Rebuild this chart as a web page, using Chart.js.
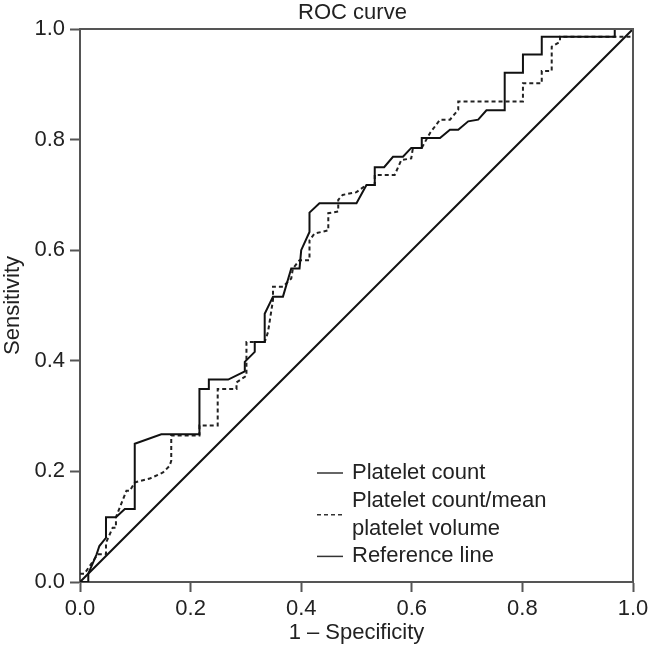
<!DOCTYPE html>
<html>
<head>
<meta charset="utf-8">
<script src="https://cdn.jsdelivr.net/npm/chart.js@4"></script>
<style>
  html, body { margin: 0; padding: 0; background: #fff; }
  #wrap { width: 648px; height: 649px; }
</style>
</head>
<body>
<div id="wrap"><canvas id="roc"></canvas></div>
<script>
// ROC curve
const countX = [0, 0.015, 0.015, 0.03, 0.035, 0.047, 0.047, 0.065, 0.081, 0.099, 0.099, 0.147, 0.216, 0.216, 0.233, 0.233, 0.268, 0.298, 0.298, 0.316, 0.316, 0.334, 0.334, 0.349, 0.367, 0.382, 0.397, 0.400, 0.415, 0.415, 0.433, 0.500, 0.518, 0.533, 0.533, 0.550, 0.566, 0.584, 0.599, 0.618, 0.618, 0.651, 0.669, 0.684, 0.702, 0.720, 0.735, 0.768, 0.768, 0.801, 0.801, 0.835, 0.835, 0.967, 0.967, 1.0];
const countY = [0, 0, 0.015, 0.05, 0.065, 0.08, 0.117, 0.117, 0.132, 0.132, 0.25, 0.267, 0.267, 0.349, 0.349, 0.366, 0.366, 0.381, 0.398, 0.416, 0.434, 0.434, 0.485, 0.516, 0.516, 0.567, 0.567, 0.600, 0.633, 0.668, 0.685, 0.685, 0.718, 0.718, 0.750, 0.750, 0.769, 0.769, 0.785, 0.785, 0.803, 0.803, 0.818, 0.818, 0.833, 0.836, 0.853, 0.853, 0.921, 0.921, 0.954, 0.954, 0.986, 0.986, 1.0, 1.0];

const ratioX = [0, 0.008, 0.032, 0.047, 0.047, 0.059, 0.065, 0.065, 0.084, 0.090, 0.099, 0.126, 0.150, 0.162, 0.165, 0.165, 0.216, 0.216, 0.249, 0.249, 0.283, 0.283, 0.301, 0.301, 0.334, 0.340, 0.349, 0.349, 0.367, 0.382, 0.385, 0.397, 0.415, 0.415, 0.424, 0.449, 0.449, 0.467, 0.467, 0.475, 0.500, 0.518, 0.533, 0.533, 0.569, 0.581, 0.599, 0.602, 0.618, 0.633, 0.651, 0.669, 0.684, 0.684, 0.801, 0.801, 0.835, 0.835, 0.853, 0.853, 0.868, 0.868, 1.0, 1.0];
const ratioY = [0.015, 0.015, 0.05, 0.05, 0.071, 0.098, 0.098, 0.117, 0.165, 0.165, 0.18, 0.187, 0.198, 0.210, 0.219, 0.265, 0.265, 0.283, 0.283, 0.349, 0.349, 0.361, 0.373, 0.434, 0.434, 0.452, 0.510, 0.534, 0.534, 0.549, 0.567, 0.582, 0.582, 0.618, 0.630, 0.636, 0.667, 0.670, 0.691, 0.700, 0.705, 0.718, 0.718, 0.736, 0.736, 0.763, 0.766, 0.785, 0.785, 0.812, 0.836, 0.836, 0.854, 0.869, 0.869, 0.902, 0.902, 0.924, 0.924, 0.968, 0.977, 0.986, 0.986, 1.0];

const refX = [0, 1];
const refY = [0, 1];

const tickValues = [0, 0.2, 0.4, 0.6, 0.8, 1.0];

const TITLE = 'ROC curve';
const FONT = '"Liberation Sans", Arial, sans-serif';
const FS = 22;
const AXIS = '#555';

function toPoints(xs, ys) {
    return xs.map((x, i) => ({ x: x, y: ys[i] }));
}

// top + right frame lines, and the title centred over the plot box
const framePlugin = {
    id: 'frame',
    afterDatasetsDraw(chart) {
        const { ctx, chartArea: a } = chart;
        ctx.save();
        ctx.strokeStyle = AXIS;
        ctx.lineWidth = 2;
        ctx.beginPath();
        ctx.moveTo(a.left, a.top);
        ctx.lineTo(a.right, a.top);
        ctx.lineTo(a.right, a.bottom);
        ctx.stroke();
        ctx.font = FS + 'px ' + FONT;
        ctx.fillStyle = '#222';
        ctx.textAlign = 'center';
        ctx.textBaseline = 'middle';
        ctx.fillText(TITLE, (a.left + a.right) / 2 - 4, 13);
        ctx.restore();
    }
};

// legend sits inside the plot, lower right
const legendPlugin = {
    id: 'boxLegend',
    afterDraw(chart) {
        const { ctx, chartArea: a } = chart;
        const lineX0 = a.left + 237, lineX1 = a.left + 263, textX = a.left + 272;
        let y = a.bottom - 109;
        const rowH = 27.8;
        ctx.save();
        ctx.font = FS + 'px ' + FONT;
        ctx.fillStyle = '#222';
        ctx.textBaseline = 'middle';
        chart.data.datasets.forEach(ds => {
            const lines = ds.legendText || [ds.label];
            const mid = y + (lines.length - 1) * rowH / 2;
            ctx.strokeStyle = '#333';
            ctx.lineWidth = 1.5;
            ctx.setLineDash(ds.borderDash || []);
            ctx.beginPath();
            ctx.moveTo(lineX0, mid);
            ctx.lineTo(lineX1, mid);
            ctx.stroke();
            ctx.setLineDash([]);
            lines.forEach((t, i) => ctx.fillText(t, textX, y + i * rowH));
            y += lines.length * rowH;
        });
        ctx.restore();
    }
};

new Chart(document.getElementById('roc'), {
    type: 'scatter',
    data: {
        datasets: [{
            label: 'Platelet count',
            data: toPoints(countX, countY),
            borderColor: '#111',
            borderWidth: 2,
            showLine: true,
            pointRadius: 0,
            tension: 0
        }, {
            label: 'Platelet count/mean platelet volume',
            legendText: ['Platelet count/mean', 'platelet volume'],
            data: toPoints(ratioX, ratioY),
            borderColor: '#222',
            borderWidth: 2,
            borderDash: [4, 3],
            showLine: true,
            pointRadius: 0,
            tension: 0
        }, {
            label: 'Reference line',
            data: toPoints(refX, refY),
            borderColor: '#111',
            borderWidth: 2,
            showLine: true,
            pointRadius: 0
        }]
    },
    options: {
        responsive: true,
        maintainAspectRatio: false,
        animation: false,
        layout: { padding: { top: 29, left: 0, right: 0, bottom: 0 } },
        plugins: {
            legend: { display: false },
            tooltip: { enabled: false },
            title: { display: false }
        },
        scales: {
            x: {
                type: 'linear',
                min: 0,
                max: 1,
                afterBuildTicks: s => { s.ticks = tickValues.map(v => ({ value: v })); },
                afterFit: s => { s.height = 67; s.paddingRight = 15; },
                ticks: {
                    color: '#222',
                    padding: 4,
                    font: { family: FONT, size: FS },
                    maxRotation: 0,
                    callback: v => v.toFixed(1)
                },
                grid: { drawOnChartArea: false, tickLength: 10, tickWidth: 2, tickColor: AXIS },
                border: { color: AXIS, width: 2 },
                title: {
                    display: true,
                    text: '1 \u2013 Specificity',
                    color: '#222',
                    font: { family: FONT, size: FS },
                    padding: { top: 0, bottom: 3 }
                }
            },
            y: {
                type: 'linear',
                min: 0,
                max: 1,
                afterBuildTicks: s => { s.ticks = tickValues.map(v => ({ value: v })); },
                afterFit: s => { s.width = 80; },
                ticks: {
                    color: '#222',
                    padding: 5,
                    font: { family: FONT, size: FS },
                    callback: v => v.toFixed(1)
                },
                grid: { drawOnChartArea: false, tickLength: 10, tickWidth: 2, tickColor: AXIS },
                border: { color: AXIS, width: 2 },
                title: {
                    display: true,
                    text: 'Sensitivity',
                    color: '#222',
                    font: { family: FONT, size: FS },
                    padding: { top: 0, bottom: 0 }
                }
            }
        }
    },
    plugins: [framePlugin, legendPlugin]
});
</script>
</body>
</html>
